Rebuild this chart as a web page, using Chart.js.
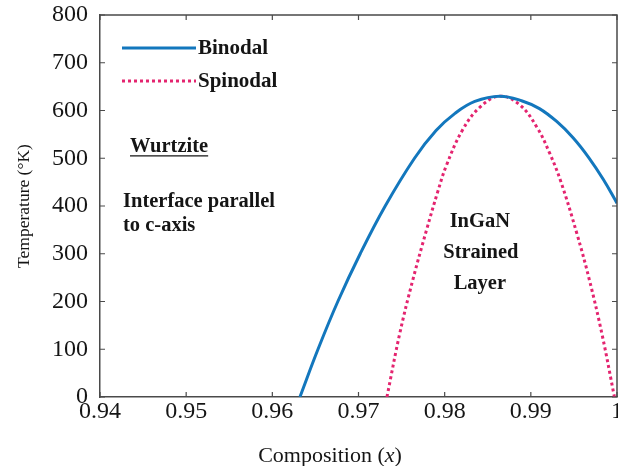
<!DOCTYPE html>
<html>
<head>
<meta charset="utf-8">
<script src="https://cdn.jsdelivr.net/npm/chart.js@4.4.1/dist/chart.umd.min.js"></script>
<style>
  html, body { margin: 0; padding: 0; background: #fff; overflow: hidden; }
  #wrap { position: relative; width: 618px; height: 466px; }
</style>
</head>
<body>
<div id="wrap"><canvas id="chart" width="618" height="466"></canvas></div>
<script>
// binodal / spinodal curves (composition x, temperature K)
const binodalX = [0.9632, 0.9653, 0.9676, 0.9702, 0.9731, 0.9765, 0.9790, 0.9812, 0.9835, 0.9864, 0.9890, 0.9910, 0.9930, 0.9949, 0.9967, 0.9984, 1.0000];
const binodalT = [0, 100, 200, 300, 400, 500, 558, 594, 619, 630, 620, 604, 577, 543, 502, 456, 406];

const spinodalX = [0.9733, 0.9748, 0.9763, 0.9779, 0.9792, 0.9802, 0.9821, 0.9841, 0.9864, 0.9887, 0.9907, 0.9922, 0.9935, 0.9953, 0.9968, 0.9983, 0.9997];
const spinodalT = [0, 134, 245, 350, 430, 485, 560, 607, 630, 612, 565, 510, 450, 345, 245, 128, 0];

const xTickValues = [0.94, 0.95, 0.96, 0.97, 0.98, 0.99, 1.0];
const xTickLabels = ['0.94', '0.95', '0.96', '0.97', '0.98', '0.99', '1'];
const yTickValues = [0, 100, 200, 300, 400, 500, 600, 700, 800];
const yTickLabels = ['0', '100', '200', '300', '400', '500', '600', '700', '800'];

// text notes inside the plot, placed in data units
const notes = [
  { text: 'Wurtzite', x: 0.94348, y: 524, align: 'left', underline: true },
  { text: 'Interface parallel', x: 0.94267, y: 409, align: 'left' },
  { text: 'to c-axis', x: 0.94267, y: 358, align: 'left' },
  { text: 'InGaN', x: 0.98408, y: 367, align: 'center' },
  { text: 'Strained', x: 0.98420, y: 302, align: 'center' },
  { text: 'Layer', x: 0.98408, y: 237, align: 'center' },
];

const SERIF = '"Liberation Serif", "Times New Roman", serif';
const BLUE = '#1377bd';
const PINK = '#e4246f';
const FRAME = '#4a4a4a';
const INK = '#151515';

function toPoints(xs, ys) {
  return xs.map((x, i) => ({ x: x, y: ys[i] }));
}

// ticks pointing inward on all four sides + top/right frame
const innerTicks = {
  id: 'innerTicks',
  afterDatasetsDraw(chart) {
    const ctx = chart.ctx;
    const a = chart.chartArea;
    const xs = chart.scales.x, ys = chart.scales.y;
    const len = 5;
    ctx.save();
    ctx.strokeStyle = FRAME;
    ctx.lineWidth = 1.5;
    ctx.beginPath();
    ctx.moveTo(a.left, a.top);
    ctx.lineTo(a.right, a.top);
    ctx.lineTo(a.right, a.bottom);
    ctx.stroke();
    ctx.lineWidth = 1.2;
    xTickValues.forEach(v => {
      const px = xs.getPixelForValue(v);
      ctx.beginPath();
      ctx.moveTo(px, a.bottom); ctx.lineTo(px, a.bottom - len);
      ctx.moveTo(px, a.top); ctx.lineTo(px, a.top + len);
      ctx.stroke();
    });
    yTickValues.forEach(v => {
      const py = ys.getPixelForValue(v);
      ctx.beginPath();
      ctx.moveTo(a.left, py); ctx.lineTo(a.left + len, py);
      ctx.moveTo(a.right, py); ctx.lineTo(a.right - len, py);
      ctx.stroke();
    });
    ctx.restore();
  }
};

// legend in the upper-left corner
const cornerLegend = {
  id: 'cornerLegend',
  afterDraw(chart) {
    const ctx = chart.ctx;
    const rows = [48, 81];
    ctx.save();
    chart.data.datasets.forEach((ds, i) => {
      const y = rows[i];
      ctx.strokeStyle = ds.borderColor;
      ctx.lineWidth = ds.borderWidth;
      ctx.setLineDash(ds.borderDash || []);
      ctx.beginPath();
      ctx.moveTo(122, y);
      ctx.lineTo(196, y);
      ctx.stroke();
      ctx.setLineDash([]);
      ctx.fillStyle = INK;
      ctx.font = 'bold 21px ' + SERIF;
      ctx.textAlign = 'left';
      ctx.textBaseline = 'middle';
      ctx.fillText(ds.label, 198, y + 1);
    });
    ctx.restore();
  }
};

// notes + x axis title (with italic x)
const plotNotes = {
  id: 'plotNotes',
  afterDraw(chart) {
    const ctx = chart.ctx;
    const xs = chart.scales.x, ys = chart.scales.y;
    ctx.save();
    ctx.fillStyle = INK;
    ctx.strokeStyle = INK;
    ctx.font = 'bold 20.5px ' + SERIF;
    ctx.textBaseline = 'middle';
    notes.forEach(n => {
      const px = xs.getPixelForValue(n.x);
      const py = ys.getPixelForValue(n.y);
      ctx.textAlign = n.align;
      ctx.fillText(n.text, px, py);
      if (n.underline) {
        const w = ctx.measureText(n.text).width;
        ctx.lineWidth = 1.3;
        ctx.beginPath();
        ctx.moveTo(px, py + 9);
        ctx.lineTo(px + w, py + 9);
        ctx.stroke();
      }
    });

    const parts = [
      { t: 'Composition (', f: '22px ' + SERIF },
      { t: 'x', f: 'italic 22px ' + SERIF },
      { t: ')', f: '22px ' + SERIF },
    ];
    let total = 0;
    parts.forEach(p => { ctx.font = p.f; p.w = ctx.measureText(p.t).width; total += p.w; });
    let cx = 330 - total / 2;
    ctx.textAlign = 'left';
    ctx.textBaseline = 'middle';
    parts.forEach(p => { ctx.font = p.f; ctx.fillText(p.t, cx, 456); cx += p.w; });
    ctx.restore();
  }
};

const ctx = document.getElementById('chart').getContext('2d');
new Chart(ctx, {
  type: 'scatter',
  data: {
    datasets: [
      {
        label: 'Binodal',
        data: toPoints(binodalX, binodalT),
        showLine: true,
        borderColor: BLUE,
        borderWidth: 3,
        pointRadius: 0,
        tension: 0.4,
      },
      {
        label: 'Spinodal',
        data: toPoints(spinodalX, spinodalT),
        showLine: true,
        borderColor: PINK,
        borderWidth: 3,
        borderDash: [3, 3],
        pointRadius: 0,
        tension: 0.4,
      },
    ],
  },
  options: {
    responsive: false,
    animation: false,
    devicePixelRatio: 1,
    layout: {
      autoPadding: false,
      padding: { top: 15, right: 1, left: 0, bottom: 0 },
    },
    plugins: {
      legend: { display: false },
      tooltip: { enabled: false },
    },
    scales: {
      x: {
        type: 'linear',
        min: 0.94,
        max: 1.0,
        grid: { display: false, drawTicks: false },
        border: { display: true, color: FRAME, width: 1.5 },
        afterBuildTicks: s => { s.ticks = xTickValues.map(v => ({ value: v })); },
        afterFit: s => {
          s.height = 466 - 397;
          s.paddingLeft = 0; s.paddingRight = 0;
        },
        ticks: {
          autoSkip: false,
          maxRotation: 0,
          padding: 3,
          color: INK,
          font: { family: SERIF, size: 24, lineHeight: 1 },
          callback: (v, i) => xTickLabels[i],
        },
        title: { display: false },
      },
      y: {
        min: 0,
        max: 800,
        grid: { display: false, drawTicks: false },
        border: { display: true, color: FRAME, width: 1.5 },
        afterBuildTicks: s => { s.ticks = yTickValues.map(v => ({ value: v })); },
        afterFit: s => {
          s.width = 100;
          s.paddingTop = 0; s.paddingBottom = 0;
        },
        ticks: {
          autoSkip: false,
          padding: 12,
          color: INK,
          font: { family: SERIF, size: 24, lineHeight: 1 },
          callback: (v, i) => yTickLabels[i],
        },
        title: {
          display: true,
          text: 'Temperature (°K)',
          color: INK,
          font: { family: SERIF, size: 17.5, lineHeight: 1.2 },
          padding: { top: 14, bottom: 0 },
        },
      },
    },
  },
  plugins: [innerTicks, cornerLegend, plotNotes],
});
</script>
</body>
</html>
